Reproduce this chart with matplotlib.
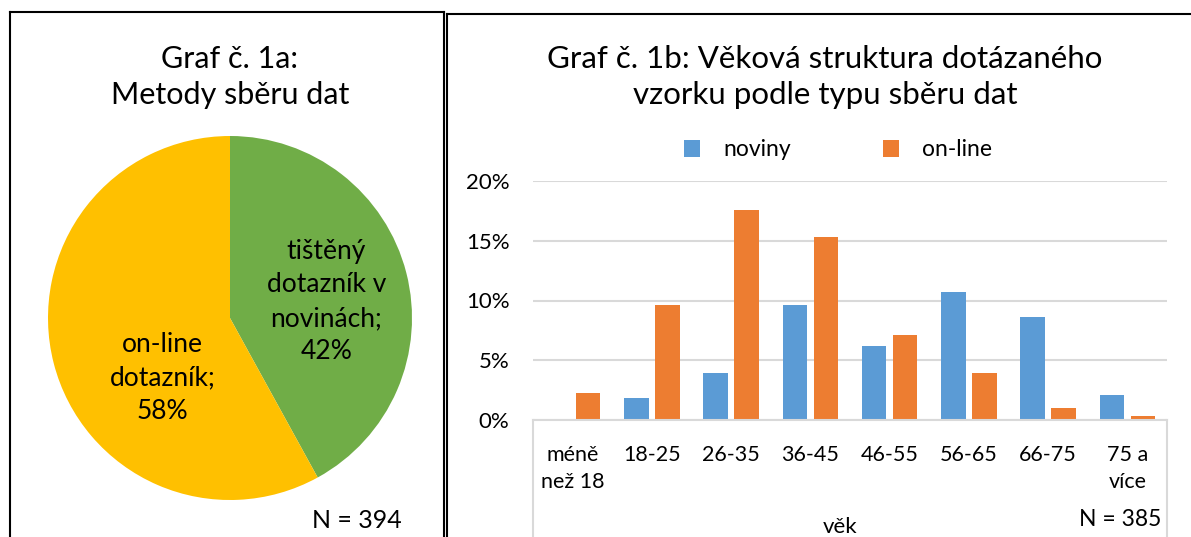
import matplotlib.pyplot as plt
from matplotlib.lines import Line2D
from matplotlib.ticker import PercentFormatter

plt.rcParams['font.family'] = ['Lato', 'DejaVu Sans']

# pie data
pie_labels = ["tištěný\ndotazník v\nnovinách;\n42%", "on-line\ndotazník;\n58%"]
pie_values = [42, 58]
pie_colors = ["#70AD47", "#FFC000"]

# bar data (share of respondents)
age_groups = ["méně\nnež 18", "18-25", "26-35", "36-45", "46-55", "56-65", "66-75", "75 a\nvíce"]
noviny = [0.0, 1.8, 3.9, 9.6, 6.2, 10.7, 8.6, 2.1]
online = [2.3, 9.6, 17.6, 15.3, 7.1, 3.9, 1.0, 0.3]

W, H = 1191, 537
fig = plt.figure(figsize=(W / 100, H / 100), dpi=100)

def fx(px):
    return px / W

def fy(py):
    return 1 - py / H

# panel borders
for xs, ys in [([10, 10], [12, 540]), ([10, 444], [12, 12]), ([444, 444], [12, 540]),
               ([447, 447], [14, 540]), ([447, 1195], [14, 14])]:
    fig.add_artist(Line2D([fx(x) for x in xs], [fy(y) for y in ys], color="black", lw=1.5))

# left: pie
cx, cy, r = 230, 318, 182
ax1 = fig.add_axes([fx(cx - r), fy(cy + r), 2 * r / W, 2 * r / H])
ax1.pie(pie_values, colors=pie_colors, startangle=90, counterclock=False, radius=1)
ax1.set_xlim(-1, 1)
ax1.set_ylim(-1, 1)
ax1.axis("off")
ax1.text(0.53, 0.09, pie_labels[0], ha="center", va="center", fontsize=19, linespacing=1.42)
ax1.text(-0.37, -0.33, pie_labels[1], ha="center", va="center", fontsize=19, linespacing=1.42)

fig.text(fx(230), fy(77), "Graf č. 1a:\nMetody sběru dat", ha="center", va="center",
         fontsize=22, linespacing=1.35)
fig.text(fx(357), fy(521), "N = 394", ha="center", va="center", fontsize=18)

# right: grouped bars
ax2 = fig.add_axes([fx(533), fy(420), (1167 - 533) / W, (420 - 181) / H])
x = range(len(age_groups))
bw = 0.31
gap = 0.08
ax2.bar([i - (bw + gap) / 2 for i in x], noviny, width=bw, color="#5B9BD5", label="noviny")
ax2.bar([i + (bw + gap) / 2 for i in x], online, width=bw, color="#ED7D31", label="on-line")
ax2.set_xlim(-0.5, len(age_groups) - 0.5)
ax2.set_ylim(0, 20)
ax2.set_yticks([0, 5, 10, 15, 20])
ax2.yaxis.set_major_formatter(PercentFormatter(decimals=0))
ax2.grid(axis="y", color="#D9D9D9", lw=1.5)
ax2.set_axisbelow(True)
for s in ["top", "right", "left"]:
    ax2.spines[s].set_visible(False)
ax2.spines["bottom"].set_color("#D9D9D9")
ax2.spines["bottom"].set_linewidth(1.5)
ax2.set_xticks(list(x))
ax2.set_xticklabels(age_groups, linespacing=1.45, fontsize=15.5, va="top")
ax2.tick_params(axis="x", length=0, pad=18)
ax2.tick_params(axis="y", length=0, pad=17, labelsize=16)

# vertical lines around category axis labels
for xp in [533, 1167]:
    fig.add_artist(Line2D([fx(xp), fx(xp)], [fy(420), fy(540)], color="#D9D9D9", lw=1.5))

fig.text(fx(825), fy(77), "Graf č. 1b: Věková struktura dotázaného\nvzorku podle typu sběru dat",
         ha="center", va="center", fontsize=22.5, linespacing=1.35)
fig.legend(loc="center", bbox_to_anchor=(fx(838), fy(150)), ncol=2, frameon=False,
           fontsize=16.5, handlelength=0.7, handleheight=0.7, columnspacing=4.0, handletextpad=1.0)
fig.text(fx(840), fy(527), "věk", ha="center", va="center", fontsize=16)
fig.text(fx(1120), fy(520), "N = 385", ha="center", va="center", fontsize=16.5)

fig.savefig("out.png", dpi=100)
